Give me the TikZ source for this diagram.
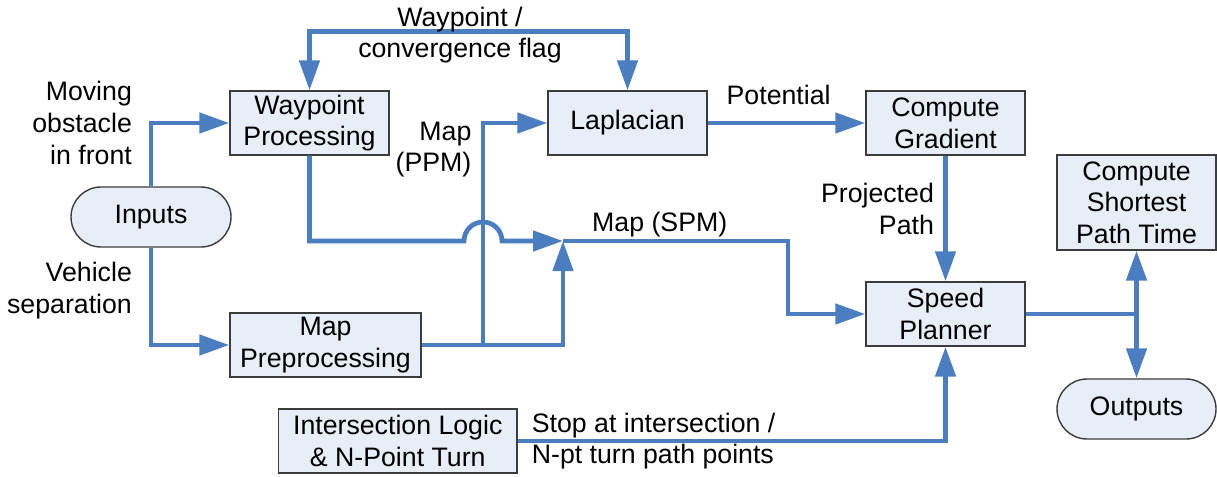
\documentclass[tikz,border=0pt]{standalone}
\usepackage{fontspec}
\setmainfont{Liberation Sans}
\usetikzlibrary{arrows.meta}
\definecolor{flowblue}{RGB}{74,126,193}
\definecolor{boxfill}{RGB}{232,238,248}
\definecolor{boxline}{RGB}{60,60,60}
\tikzset{
	>={Triangle[length=0.6cm,width=0.4cm]},
	block/.style={rectangle,draw=boxline,line width=0.8pt,fill=boxfill,align=center,
		minimum width=3.18cm,minimum height=1.28cm,inner sep=0pt,
		font=\fontsize{15.2}{18}\selectfont},
	terminal/.style={block,rounded corners=0.6cm,minimum height=1.2cm},
	flow/.style={draw=flowblue,line width=2.7pt,->},
	lbl/.style={align=center,inner sep=1pt,font=\fontsize{15.2}{18}\selectfont}
}
\def\leftblocks{
	\path (3.02,5.18) node(Inputs) [terminal,minimum width=3.2cm] {Inputs}
			(6.19,7.06) node(Waypoint) [block] {Waypoint\\Processing}
			(6.51,2.62) node(MapPre) [block,minimum width=3.82cm] {Map\\Preprocessing}
			(7.955,0.70) node(Intersect) [block,minimum width=4.77cm] {Intersection Logic\\\& N-Point Turn}
			(12.55,7.06) node(Laplacian) [block] {Laplacian};
}
\def\rightblocks{
	\path (18.91,7.06) node(Gradient) [block] {Compute\\Gradient}
			(18.91,3.24) node(Speed) [block] {Speed\\Planner}
			(22.73,5.47) node(Shortest) [block,minimum height=1.9cm] {Compute\\Shortest\\Path Time}
			(22.73,1.34) node(Outputs) [terminal] {Outputs};
}
\begin{document}
\begin{tikzpicture}
\useasboundingbox (0,0) rectangle (24.34,9.52);
\leftblocks
\rightblocks
\coordinate (ppm) at (9.66,2.62);
\coordinate (hop) at (9.66,4.70);
\coordinate (merge) at (11.26,4.70);
\coordinate (spm) at (15.76,4.70);
\draw[flow] (Inputs.north) |- node[lbl,left=0.3cm,align=right] {Moving\\obstacle\\in front} (Waypoint.west);
\draw[flow] (Inputs.south) |- node[lbl,left=0.3cm,align=right,pos=0.22] {Vehicle\\separation} (MapPre.west);
\draw[flow,<->] (Waypoint.north) -- ++(0,1.18) -| (Laplacian.north);
\node[lbl] (flag) at (9.2,8.82) {Waypoint /\\convergence flag};
\draw[flow] (Waypoint.south) |- ([xshift=-0.38cm]hop) arc[start angle=180,end angle=0,radius=0.38cm] -- (merge);
\draw[flow] (MapPre.east) -| (merge);
\draw[flow] (ppm) |- node[lbl,left=0.15cm,align=right,pos=0.44] {Map\\(PPM)} (Laplacian.west);
\draw[flow] (merge) -- node[lbl,above,pos=0.43] {Map (SPM)} (spm) |- (Speed.west);
\draw[flow] (Laplacian.east) -- node[lbl,above=0.28cm,pos=0.45] {Potential} (Gradient.west);
\draw[flow] (Gradient.south) -- node[lbl,left=0.15cm,align=right,pos=0.425] {Projected\\Path} (Speed.north);
\draw[flow] (Speed.east) -| (Shortest.south);
\draw[flow] (Speed.east) -| (Outputs.north);
\draw[flow] (Intersect.east) -| node[lbl,pos=0,anchor=west,xshift=0.2cm,align=left] {Stop at intersection /\\N-pt turn path points} (Speed.south);
\end{tikzpicture}
\end{document}
